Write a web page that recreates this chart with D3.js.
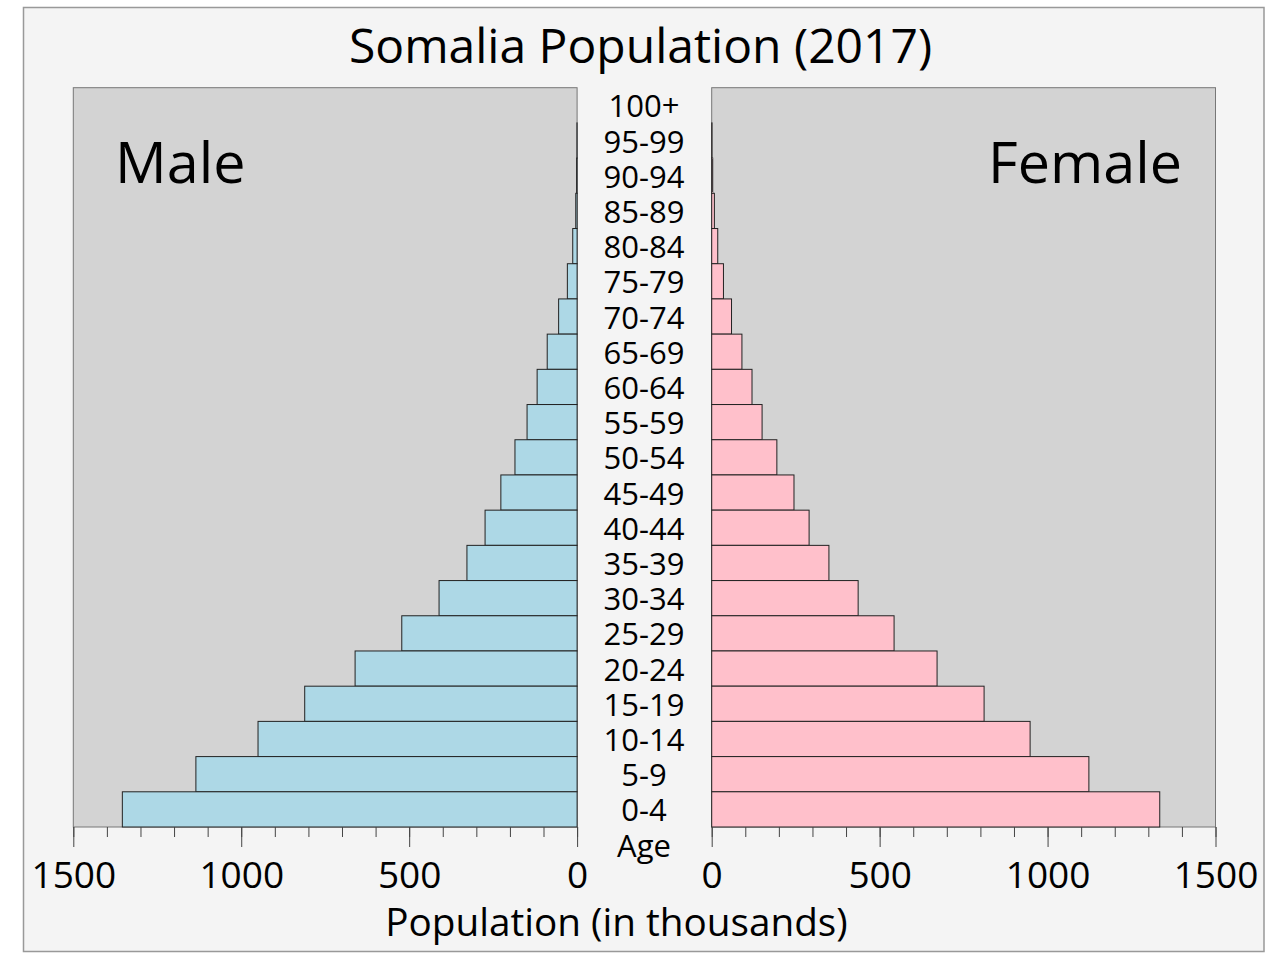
<!DOCTYPE html>
<html>
<head>
<meta charset="utf-8">
<script src="https://cdn.jsdelivr.net/npm/d3@7"></script>
<style>
  body { margin: 0; background: #ffffff; }
  text { font-family: "Open Sans", "Noto Sans", sans-serif; fill: #000; }
</style>
</head>
<body>
<div id="chart"></div>
<script>
// age groups, top to bottom
const ages = ["100+", "95-99", "90-94", "85-89", "80-84", "75-79", "70-74", "65-69",
              "60-64", "55-59", "50-54", "45-49", "40-44", "35-39", "30-34", "25-29",
              "20-24", "15-19", "10-14", "5-9", "0-4"];

// population in thousands, same order as ages
const male = [0, 0.5, 1.5, 4, 13, 29, 55, 89, 119, 149, 185, 227, 274, 328, 411, 522, 661, 811, 950, 1135, 1354];
const female = [0, 1, 3, 8, 18, 35, 59, 90, 120, 150, 194, 245, 290, 349, 436, 543, 671, 811, 948, 1123, 1334];

const majorTicks = [0, 500, 1000, 1500];
const minorTicks = d3.range(0, 1501, 100);

const W = 1280, H = 960;
const svg = d3.select("#chart").append("svg")
    .attr("width", W)
    .attr("height", H);

// outer frame
svg.append("rect")
    .attr("x", 23.5).attr("y", 7.5)
    .attr("width", 1240.5).attr("height", 944)
    .attr("fill", "#f4f4f4")
    .attr("stroke", "#999")
    .attr("stroke-width", 1.5);

const plotTop = 87.7, plotBottom = 827;

const xL = d3.scaleLinear().domain([1500, 0]).range([73.3, 577.1]);
const xR = d3.scaleLinear().domain([0, 1500]).range([711.7, 1215.5]);
const y = d3.scaleBand().domain(ages).range([plotTop, plotBottom]).padding(0);

// panels
[xL, xR].forEach(sc => {
    const r = sc.range();
    const x0 = Math.min(r[0], r[1]), x1 = Math.max(r[0], r[1]);
    svg.append("rect")
        .attr("x", x0).attr("y", plotTop)
        .attr("width", x1 - x0).attr("height", plotBottom - plotTop)
        .attr("fill", "#d3d3d3")
        .attr("stroke", "#777")
        .attr("stroke-width", 1);
});

// bars
svg.append("g").selectAll("rect")
    .data(male)
    .enter().append("rect")
        .attr("x", d => xL(d))
        .attr("y", (d, i) => y(ages[i]))
        .attr("width", d => xL(0) - xL(d))
        .attr("height", y.bandwidth())
        .attr("fill", "#add8e6")
        .attr("stroke", "#222")
        .attr("stroke-width", 1);

svg.append("g").selectAll("rect")
    .data(female)
    .enter().append("rect")
        .attr("x", xR(0))
        .attr("y", (d, i) => y(ages[i]))
        .attr("width", d => xR(d) - xR(0))
        .attr("height", y.bandwidth())
        .attr("fill", "#ffc0cb")
        .attr("stroke", "#222")
        .attr("stroke-width", 1);

// axes
[xL, xR].forEach(sc => {
    const minor = svg.append("g")
        .attr("transform", `translate(0, ${plotBottom})`)
        .call(d3.axisBottom(sc).tickValues(minorTicks).tickSize(10).tickFormat(""));
    minor.select(".domain").remove();
    minor.selectAll("line").attr("stroke", "#444");

    const major = svg.append("g")
        .attr("transform", `translate(0, ${plotBottom})`)
        .call(d3.axisBottom(sc).tickValues(majorTicks).tickSize(20).tickFormat(d3.format("d")));
    major.select(".domain").remove();
    major.selectAll("line").attr("stroke", "#444");
    major.selectAll("text")
        .attr("y", 61).attr("dy", 0)
        .attr("font-size", 37)
        .attr("font-family", "Open Sans")
        .attr("fill", "#000");
});

// age labels
const midX = 644;
svg.append("g").selectAll("text")
    .data(ages)
    .enter().append("text")
        .attr("x", midX)
        .attr("y", d => y(d) + y.bandwidth() / 2 + 12)
        .attr("text-anchor", "middle")
        .attr("font-size", 31)
        .text(d => d);

svg.append("text")
    .attr("x", midX)
    .attr("y", plotBottom + y.bandwidth() / 2 + 12)
    .attr("text-anchor", "middle")
    .attr("font-size", 31)
    .text("Age");

// titles
svg.append("text")
    .attr("x", 640.5).attr("y", 63)
    .attr("text-anchor", "middle")
    .attr("font-size", 48)
    .text("Somalia Population (2017)");

svg.append("text")
    .attr("x", 616.5).attr("y", 936)
    .attr("text-anchor", "middle")
    .attr("font-size", 38.7)
    .text("Population (in thousands)");

svg.append("text")
    .attr("x", 115).attr("y", 183)
    .attr("font-size", 57.5)
    .text("Male");

svg.append("text")
    .attr("x", 1182).attr("y", 183)
    .attr("text-anchor", "end")
    .attr("font-size", 57.5)
    .text("Female");
</script>
</body>
</html>
